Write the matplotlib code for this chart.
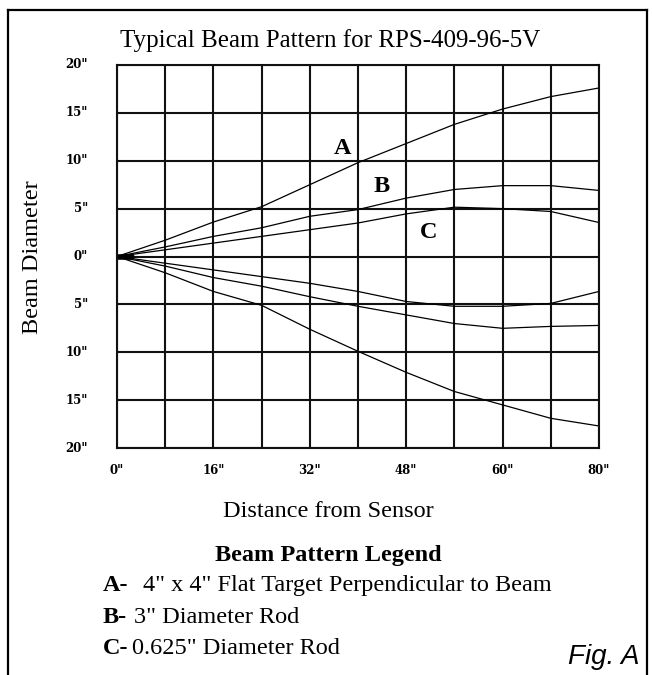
import matplotlib.pyplot as plt
import numpy as np

# distance from sensor (inches) and half-width of beam (inches)
dist = [0, 8, 16, 24, 32, 40, 48, 56, 64, 72, 80]
a_upper = [0, 1.7, 3.6, 5.2, 7.5, 9.8, 11.8, 13.8, 15.4, 16.7, 17.6]
a_lower = [0, -1.7, -3.65, -5.1, -7.6, -9.9, -12.1, -14.1, -15.5, -16.9, -17.7]
b_upper = [0, 1.0, 2.1, 3.0, 4.2, 4.9, 6.1, 7.0, 7.4, 7.4, 6.9]
b_lower = [0, -1.0, -2.2, -3.1, -4.2, -5.2, -6.1, -7.0, -7.5, -7.3, -7.2]
c_upper = [0, 0.7, 1.4, 2.1, 2.8, 3.5, 4.45, 5.15, 5.0, 4.7, 3.55]
c_lower = [0, -0.7, -1.4, -2.1, -2.8, -3.65, -4.7, -5.2, -5.2, -4.9, -3.65]

xtick_pos = [0, 16, 32, 48, 64, 80]
xtick_labels = ['0"', '16"', '32"', '48"', '60"', '80"']
ytick_pos = [20, 15, 10, 5, 0, -5, -10, -15, -20]
ytick_labels = ['20"', '15"', '10"', '5"', '0"', '5"', '10"', '15"', '20"']

serif = 'Liberation Serif'
fs = 17.5

fig = plt.figure(figsize=(6.53, 6.75), dpi=100)
W, H = 653, 675
ax = fig.add_axes([117 / W, 1 - 448 / H, (599 - 117) / W, (448 - 65) / H])

for ys in (a_upper, a_lower, b_upper, b_lower, c_upper, c_lower):
    ax.plot(dist, ys, color='black', lw=0.9)
# blob at the sensor
ax.plot([0, 2.5], [0, 0], color='black', lw=4, solid_capstyle='round')

ax.set_xlim(0, 80)
ax.set_ylim(-20, 20)
ax.set_xticks(np.arange(0, 81, 8))
ax.set_yticks(np.arange(-20, 21, 5))
ax.grid(True, color='#111111', lw=1.5)
ax.tick_params(length=0, labelbottom=False, labelleft=False)
for s in ax.spines.values():
    s.set_linewidth(1.5)
    s.set_color('#111111')

for xp, lab in zip(xtick_pos, xtick_labels):
    ax.text(xp, -22.4, lab, ha='center', va='center', fontsize=8.5,
            fontweight='bold', family='DejaVu Serif')
for yp, lab in zip(ytick_pos, ytick_labels):
    ax.text(-4.8, yp, lab, ha='right', va='center', fontsize=8.5,
            fontweight='bold', family='DejaVu Serif')

ax.text(37.5, 11.3, 'A', fontsize=fs, fontweight='bold', family=serif, ha='center', va='center')
ax.text(43.9, 7.3, 'B', fontsize=fs, fontweight='bold', family=serif, ha='center', va='center')
ax.text(51.7, 2.5, 'C', fontsize=fs, fontweight='bold', family=serif, ha='center', va='center')

fig.text(330 / W, 1 - 47 / H, 'Typical Beam Pattern for RPS-409-96-5V', fontsize=18,
         family=serif, ha='center', va='baseline')
fig.text(43 / W, 1 - 257 / H, 'Beam Diameter', fontsize=fs, family=serif,
         rotation=90, ha='right', va='center')
fig.text(328 / W, 1 - 517 / H, 'Distance from Sensor', fontsize=fs, family=serif,
         ha='center', va='baseline')
fig.text(328 / W, 1 - 561 / H, 'Beam Pattern Legend', fontsize=fs, fontweight='bold',
         family=serif, ha='center', va='baseline')

legend_keys = ['A-', 'B-', 'C-']
legend_text = ['4" x 4" Flat Target Perpendicular to Beam', '3" Diameter Rod', '0.625" Diameter Rod']
legend_x = [143, 134, 132]
legend_base = [591, 623, 654]
for k, t, tx, yb in zip(legend_keys, legend_text, legend_x, legend_base):
    fig.text(103 / W, 1 - yb / H, k, fontsize=fs, fontweight='bold', family=serif, va='baseline')
    fig.text(tx / W, 1 - yb / H, t, fontsize=fs, family=serif, va='baseline')

fig.text(640 / W, 1 - 664 / H, 'Fig. A', fontsize=20, style='italic',
         family='Liberation Sans', ha='right', va='baseline')

# outer frame (no bottom edge)
fig.add_artist(plt.Line2D([8 / W, 8 / W], [0, 1 - 10 / H], color='black', lw=1.6,
                          transform=fig.transFigure))
fig.add_artist(plt.Line2D([8 / W, 647 / W], [1 - 10 / H, 1 - 10 / H], color='black', lw=1.6,
                          transform=fig.transFigure))
fig.add_artist(plt.Line2D([647 / W, 647 / W], [0, 1 - 10 / H], color='black', lw=1.6,
                          transform=fig.transFigure))

fig.savefig('out.png', dpi=100)
